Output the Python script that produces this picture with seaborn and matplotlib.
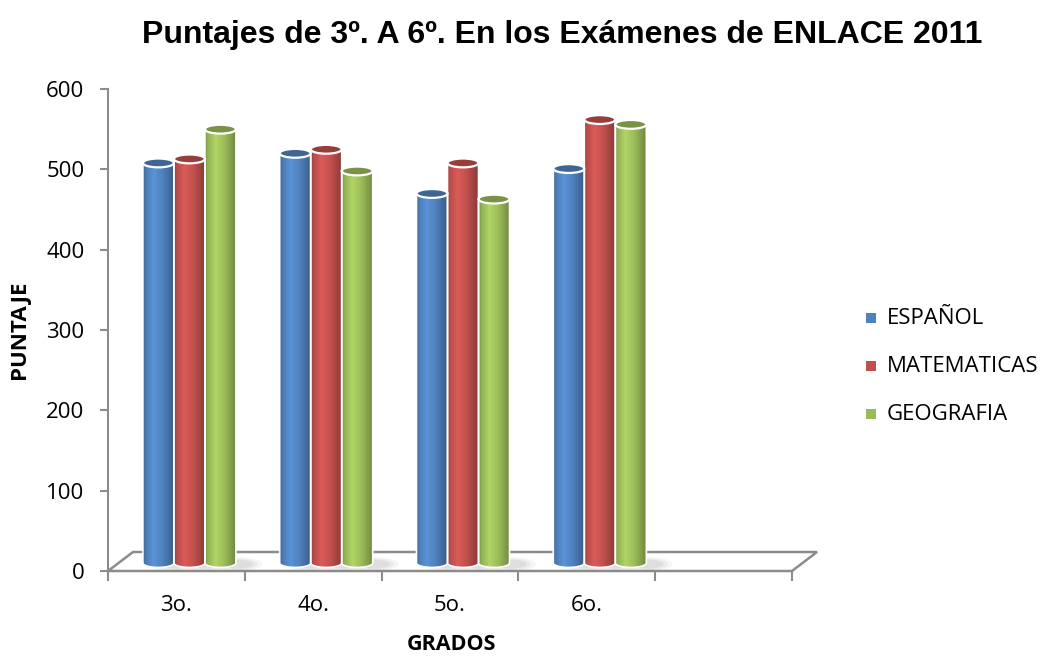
import numpy as np
import pandas as pd
import seaborn as sns
import matplotlib
matplotlib.use("Agg")
import matplotlib.pyplot as plt
from matplotlib.patches import PathPatch, Ellipse, Polygon, Rectangle
from matplotlib.path import Path
from matplotlib.transforms import ScaledTranslation

# Scores per grade and subject
grados = ["3o.", "4o.", "5o.", "6o."]
materias = ["ESPAÑOL", "MATEMATICAS", "GEOGRAFIA"]
espanol = [498, 510, 460, 491]
matematicas = [503, 515, 498, 552]
geografia = [540, 488, 453, 546]
colores = ["#4F81BD", "#C0504D", "#9BBB59"]
y_ticks = [0, 100, 200, 300, 400, 500, 600]
titulo = "Puntajes de 3º. A 6º. En los Exámenes de ENLACE 2011"

df = pd.DataFrame({
    "grado": grados * len(materias),
    "materia": np.repeat(materias, len(grados)),
    "puntaje": espanol + matematicas + geografia,
})

sns.set_theme(style="white")
plt.rcParams["font.family"] = ["Open Sans", "DejaVu Sans"]
plt.rcParams["text.color"] = "black"

W, H, DPI = 1053, 656, 100
fig = plt.figure(figsize=(W / DPI, H / DPI), dpi=DPI)
fig.patch.set_facecolor("white")
ax = fig.add_axes([108 / W, 1 - 571 / H, 684 / W, 482 / H])
ax.set_facecolor("none")

sns.barplot(data=df, x="grado", y="puntaje", hue="materia", order=grados,
            hue_order=materias, palette=colores, width=0.68, gap=0,
            saturation=1, errorbar=None, legend=False, ax=ax)
bars = [p for p in ax.patches if isinstance(p, Rectangle)]

GRIS = "#8C8C8C"
n_slots = len(grados) + 1

# floor of the pseudo-3D plot area
dx, dy = 25 / 684, 19 / 482
floor = Polygon([(0, 0), (1, 0), (1 + dx, dy), (dx, dy)], closed=True,
                transform=ax.transAxes, facecolor="white", edgecolor=GRIS,
                lw=1.8, clip_on=False, zorder=1)
ax.add_patch(floor)

# bars sit half-way into the floor depth
bar_tr = ax.transData + ScaledTranslation(13 / DPI, 8 / DPI, fig.dpi_scale_trans)
cap = 11  # height of the cylinder end caps, in data units


def shade(rgb):
    t = np.linspace(0, 1, 64)
    k = np.interp(t, [0, .08, .33, .62, .88, 1], [.80, .95, 1.14, 1.0, .80, .68])
    return np.clip(np.outer(k, rgb), 0, 1)[None, :, :]


for p in bars:
    h = p.get_height()
    if not np.isfinite(h) or h <= 0:
        continue
    x0, w = p.get_x(), p.get_width()
    rgb = np.array(p.get_facecolor()[:3])
    p.set_visible(False)
    cx = x0 + w / 2

    # soft shadow on the floor, cast to the right
    for s, a in [(1.6, .05), (1.3, .07), (1.0, .09)]:
        ax.add_patch(Ellipse((cx + w * 0.55, -1.5), w * s, cap * s,
                             facecolor="#606060", edgecolor="none", alpha=a,
                             transform=bar_tr, zorder=2))

    th = np.linspace(np.pi, 2 * np.pi, 40)
    bottom = np.column_stack([cx + w / 2 * np.cos(th), cap / 2 * np.sin(th)])
    verts = np.vstack([[x0, h], bottom, [x0 + w, h], [x0, h]])
    codes = [Path.MOVETO] + [Path.LINETO] * (len(verts) - 2) + [Path.CLOSEPOLY]
    body = PathPatch(Path(verts, codes), facecolor="none", edgecolor="white",
                     lw=1.2, transform=bar_tr, zorder=3)
    ax.add_patch(body)
    im = ax.imshow(shade(rgb), extent=[x0, x0 + w, -cap / 2, h], aspect="auto",
                   interpolation="bilinear", zorder=2.9)
    im.set_transform(bar_tr)
    im.set_clip_path(body)
    ax.add_patch(Ellipse((cx, h), w, cap, facecolor=rgb * 0.78,
                         edgecolor="white", lw=1.6, transform=bar_tr, zorder=4))

ax.set_xlim(-0.5, n_slots - 0.5)
ax.set_ylim(0, 600)
ax.set_aspect("auto")

for side in ["top", "right", "bottom"]:
    ax.spines[side].set_visible(False)
ax.spines["left"].set_color(GRIS)
ax.spines["left"].set_linewidth(1.5)
ax.spines["left"].set_zorder(1.5)

ax.set_yticks(y_ticks)
ax.set_yticklabels([str(v) for v in y_ticks])
ax.tick_params(axis="y", left=True, length=6, width=1.5, color=GRIS, pad=11,
               labelsize=16, labelcolor="black")

ax.set_xticks(np.arange(-0.5, n_slots, 1))
ax.set_xticklabels([])
ax.set_xticks(range(len(grados)), labels=grados, minor=True)
ax.tick_params(axis="x", which="major", bottom=True, length=7, width=1.5, color=GRIS)
ax.tick_params(axis="x", which="minor", bottom=True, length=0, pad=17,
               labelsize=16, labelcolor="black")
ax.set_xlabel("")
ax.set_ylabel("")

fig.text(562 / W, 1 - 43 / H, titulo, ha="center", va="baseline",
         family=["Liberation Sans", "DejaVu Sans"], weight="bold", size=23,
         color="black")
fig.text(452 / W, 1 - 645 / H, "GRADOS", ha="center", va="center",
         weight="bold", size=15.5)
fig.text(20 / W, 1 - 330 / H, "PUNTAJE", ha="center", va="center",
         rotation=90, weight="bold", size=16)

# legend
for i, (m, c) in enumerate(zip(materias, colores)):
    yc = 318 + 48 * i
    fig.add_artist(Rectangle((866 / W, 1 - (yc + 5) / H), 10 / W, 10 / H,
                             transform=fig.transFigure, facecolor=c,
                             edgecolor="none"))
    fig.text(887 / W, 1 - yc / H, m, ha="left", va="center", size=16)

fig.savefig("out.png", dpi=DPI)
